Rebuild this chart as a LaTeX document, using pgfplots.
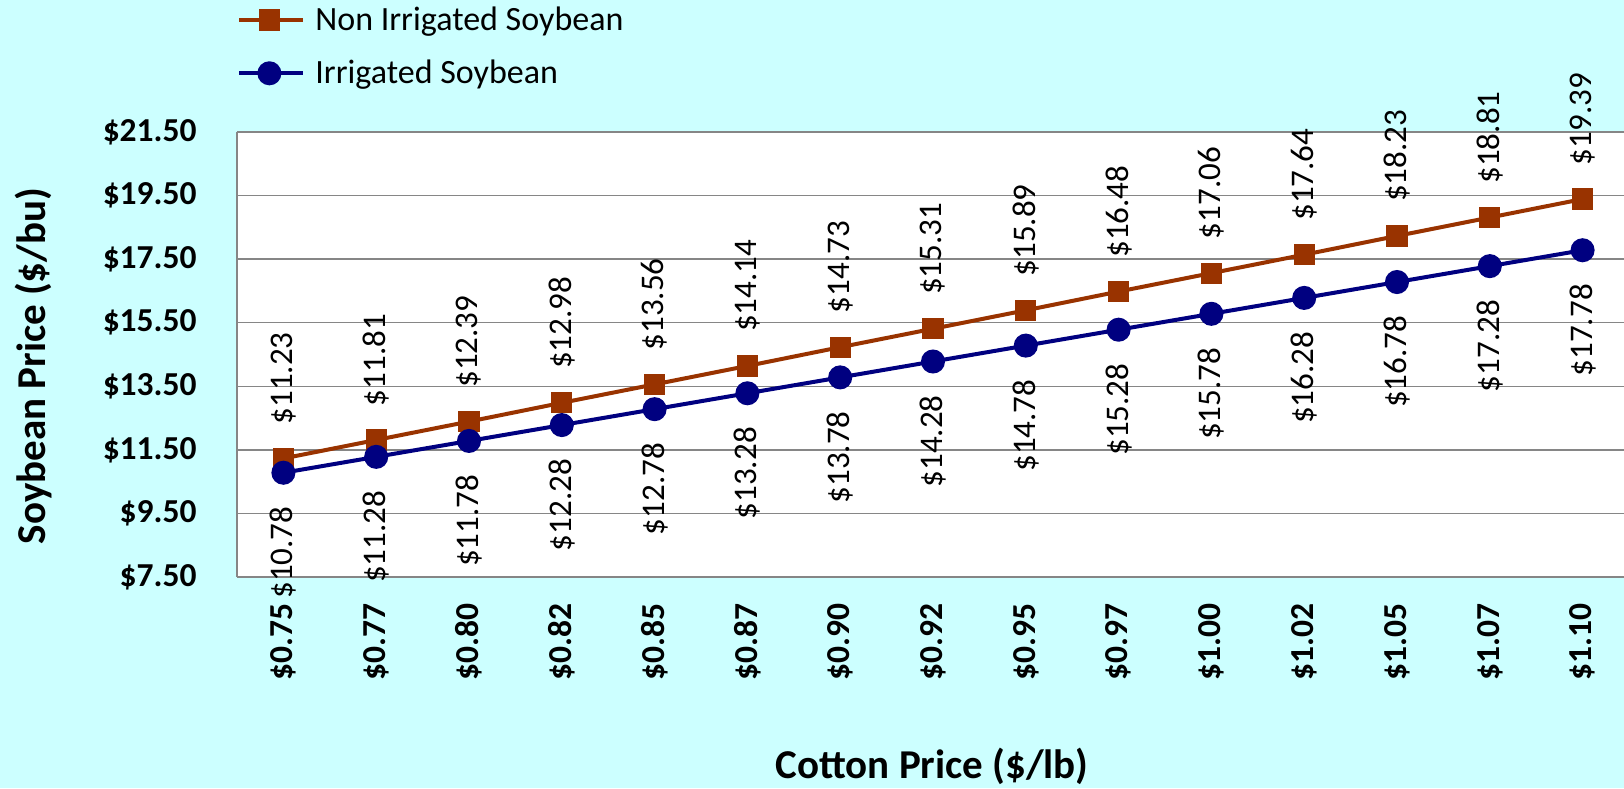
\documentclass[border=0pt]{standalone}
\usepackage{pgfplots}
\pgfplotsset{compat=1.18}
\usepackage{fontspec}
\setmainfont{Carlito}
\definecolor{bg}{HTML}{CCFFFF}
\definecolor{nonirr}{HTML}{993300}
\definecolor{irr}{HTML}{000080}
\definecolor{gridgray}{HTML}{868686}
\begin{document}
\begin{tikzpicture}
\fill[bg] (0,0) rectangle (812pt,394pt);
\path[use as bounding box] (0,0) rectangle (812pt,394pt);
\begin{axis}[
  at={(118.5pt,105.5pt)}, anchor=south west,
  scale only axis, width=696pt, height=222.5pt,
  xmin=-0.5, xmax=14.5, ymin=7.5, ymax=21.5,
  axis background/.style={fill=white},
  axis x line*=bottom, axis y line*=left,
  axis line style={gridgray, line width=1pt},
  ymajorgrids, grid style={gridgray, line width=0.7pt},
  major tick length=0pt,
  /pgf/number format/assume math mode=true,
  xtick={0,...,14},
  xticklabels={\$0.75,\$0.77,\$0.80,\$0.82,\$0.85,\$0.87,\$0.90,\$0.92,\$0.95,\$0.97,\$1.00,\$1.02,\$1.05,\$1.07,\$1.10},
  ytick={7.5,9.5,11.5,13.5,15.5,17.5,19.5,21.5},
  yticklabels={\$7.50,\$9.50,\$11.50,\$13.50,\$15.50,\$17.50,\$19.50,\$21.50},
  yticklabel style={font=\fontsize{16.75}{20}\selectfont\bfseries, anchor=east, inner sep=0pt, xshift=-20pt},
  xticklabel style={font=\fontsize{16.75}{20}\selectfont\bfseries, rotate=90, anchor=east, inner sep=0pt, xshift=-13pt},
  legend style={at={(axis description cs:0,1)}, anchor=south west, yshift=22.5pt,
    draw=none, fill=none, inner sep=0pt, row sep=13.3pt,
    font=\fontsize{17}{20}\selectfont, nodes={inner sep=0pt},
    /tikz/every odd column/.append style={column sep=5pt}},
  legend cell align=left,
  nodes near coords={\$\pgfmathprintnumber[fixed,fixed zerofill,precision=2]{\pgfplotspointmeta}},
  every node near coord/.append style={font=\fontsize{16.5}{20}\selectfont, text=black, inner sep=0pt},
]
\addplot[nonirr, line width=2pt, mark=square*, mark size=4.3pt, mark options={solid},
  every node near coord/.append style={anchor=west, rotate=90, xshift=16pt},
  legend image code/.code={\draw[nonirr, line width=2pt] (0pt,0pt) -- (32pt,0pt); \fill[nonirr] (10.7pt,-4.3pt) rectangle (19.3pt,4.3pt);}]
  coordinates {(0,11.23) (1,11.81) (2,12.39) (3,12.98) (4,13.56) (5,14.14) (6,14.73) (7,15.31) (8,15.89) (9,16.48) (10,17.06) (11,17.64) (12,18.23) (13,18.81) (14,19.39)};
\addlegendentry{Non Irrigated Soybean}
\addplot[irr, line width=2pt, mark=*, mark size=5pt, mark options={solid},
  every node near coord/.append style={anchor=east, rotate=90, xshift=-16pt},
  legend image code/.code={\draw[irr, line width=2pt] (0pt,0pt) -- (32pt,0pt); \fill[irr] (15pt,0pt) circle (5pt);}]
  coordinates {(0,10.78) (1,11.28) (2,11.78) (3,12.28) (4,12.78) (5,13.28) (6,13.78) (7,14.28) (8,14.78) (9,15.28) (10,15.78) (11,16.28) (12,16.78) (13,17.28) (14,17.78)};
\addlegendentry{Irrigated Soybean}
\end{axis}
\node[font=\fontsize{20.5}{24}\selectfont\bfseries] at (466pt,11pt) {Cotton Price (\$/lb)};
\node[font=\fontsize{20.5}{24}\selectfont\bfseries, rotate=90] at (17pt,211pt) {Soybean Price (\$/bu)};
\end{tikzpicture}
\end{document}
